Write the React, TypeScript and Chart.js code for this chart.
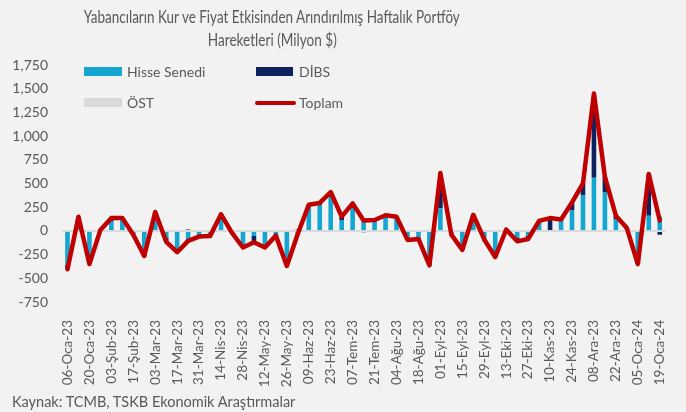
import React, { useEffect, useLayoutEffect, useRef } from "react";
import { Chart, registerables } from "chart.js";

Chart.register(...registerables);

const labels = [
  "06-Oca-23", "13-Oca-23", "20-Oca-23", "27-Oca-23",
  "03-Şub-23", "10-Şub-23", "17-Şub-23", "24-Şub-23",
  "03-Mar-23", "10-Mar-23", "17-Mar-23", "24-Mar-23", "31-Mar-23",
  "07-Nis-23", "14-Nis-23", "21-Nis-23", "28-Nis-23",
  "05-May-23", "12-May-23", "19-May-23", "26-May-23",
  "02-Haz-23", "09-Haz-23", "16-Haz-23", "23-Haz-23", "30-Haz-23",
  "07-Tem-23", "14-Tem-23", "21-Tem-23", "28-Tem-23",
  "04-Ağu-23", "11-Ağu-23", "18-Ağu-23", "25-Ağu-23",
  "01-Eyl-23", "08-Eyl-23", "15-Eyl-23", "22-Eyl-23", "29-Eyl-23",
  "06-Eki-23", "13-Eki-23", "20-Eki-23", "27-Eki-23",
  "03-Kas-23", "10-Kas-23", "17-Kas-23", "24-Kas-23",
  "01-Ara-23", "08-Ara-23", "15-Ara-23", "22-Ara-23", "29-Ara-23",
  "05-Oca-24", "12-Oca-24", "19-Oca-24",
];

const hisse = [
  -355, 110, -335, 10, 100, 130, -40, -255, 180, -70,
  -225, -120, -70, -55, 150, 0, -160, -55, -170, -40,
  -365, -45, 270, 295, 400, 115, 285, 120, 115, 165,
  150, -80, -85, -350, 240, -40, -160, 120, -100, -260,
  15, -70, -50, 105, 10, 110, 215, 380, 560, 410,
  120, 20, -310, 160, 150,
];

const dibs = [
  -45, 40, -15, 0, 35, 5, 0, -15, 20, -45,
  0, 15, 0, 0, 25, -20, -10, -65, 0, -10,
  0, 15, 5, 0, 10, 35, 5, -15, 0, 0,
  0, -15, 0, -15, 350, 0, -40, 50, 0, -15,
  0, -40, -35, 0, 125, 10, 85, 120, 850, 160,
  40, 10, -40, 440, -40,
];

const ost = [
  0, 0, 0, 0, 0, 0, 0, 5, 0, 0,
  0, 0, 10, 0, 0, 0, 0, 0, 0, 0,
  0, 0, 0, 0, 0, 0, 0, 0, 0, 0,
  0, 0, 0, 0, 20, 0, 0, 0, 10, 0,
  0, 0, 0, 0, 0, 0, 0, 0, 40, 0,
  0, 0, 0, 0, 0,
];

const toplam = [
  -405, 150, -350, 10, 135, 135, -40, -265, 200, -115,
  -225, -105, -60, -55, 175, -20, -175, -120, -175, -50,
  -370, -30, 275, 295, 410, 150, 290, 110, 115, 165,
  150, -95, -85, -365, 610, -40, -200, 170, -90, -275,
  15, -110, -85, 105, 135, 120, 300, 500, 1450, 570,
  160, 30, -350, 600, 110,
];

const yMin = -750;
const yMax = 1750;
const yStep = 250;

const titleLines = [
  "Yabancıların Kur ve Fiyat Etkisinden Arındırılmış Haftalık Portföy",
  "Hareketleri (Milyon $)",
];
const titleWidths = [376, 129];

const TEXT = "#595959";
const FONT = "Lato, 'Open Sans', sans-serif";

export default function App() {
  const ref = useRef<HTMLCanvasElement | null>(null);
  const titleRefs = useRef<(HTMLSpanElement | null)[]>([]);

  useLayoutEffect(() => {
    titleRefs.current.forEach((el, i) => {
      if (!el) return;
      const w = el.getBoundingClientRect().width;
      if (w > 0) {
        el.style.transform = `scaleX(${titleWidths[i] / w})`;
      }
    });
  }, []);

  useEffect(() => {
    document.body.style.margin = "0";
    document.body.style.background = "#F2F2F2";
    const chart = new Chart(ref.current as HTMLCanvasElement, {
      type: "bar",
      data: {
        labels,
        datasets: [
          {
            type: "line",
            label: "Toplam",
            data: toplam,
            borderColor: "#C00000",
            backgroundColor: "#C00000",
            borderWidth: 4.5,
            pointRadius: 0,
            tension: 0,
            borderJoinStyle: "round",
            borderCapStyle: "round",
            order: 0,
            stack: "total",
          } as any,
          {
            label: "Hisse Senedi",
            data: hisse,
            backgroundColor: "#12A6D1",
            stack: "s",
            order: 1,
            barPercentage: 0.42,
            categoryPercentage: 1,
          },
          {
            label: "DİBS",
            data: dibs,
            backgroundColor: "#0E225E",
            stack: "s",
            order: 1,
            barPercentage: 0.42,
            categoryPercentage: 1,
          },
          {
            label: "ÖST",
            data: ost,
            backgroundColor: "#D9D9D9",
            stack: "s",
            order: 1,
            barPercentage: 0.42,
            categoryPercentage: 1,
          },
        ],
      },
      options: {
        responsive: false,
        animation: false,
        layout: { padding: { left: 8, right: 6, top: 65, bottom: 22 } },
        plugins: {
          legend: { display: false },
          title: { display: false },
          tooltip: { enabled: false },
        },
        scales: {
          x: {
            stacked: true,
            grid: { display: false },
            border: { display: false },
            ticks: {
              autoSkip: false,
              maxRotation: 90,
              minRotation: 90,
              padding: 10,
              color: TEXT,
              font: { family: FONT, size: 13.5 },
              callback: (_v: any, i: number) => (i % 2 === 0 ? labels[i] : ""),
            },
            afterFit: (s: any) => {
              s.height = 88;
            },
          },
          y: {
            stacked: true,
            min: yMin,
            max: yMax,
            border: { display: false },
            grid: {
              drawTicks: false,
              color: (ctx: any) => (ctx.tick && ctx.tick.value === 0 ? "#D9D9D9" : "rgba(0,0,0,0)"),
              lineWidth: (ctx: any) => (ctx.tick && ctx.tick.value === 0 ? 2 : 0),
            },
            ticks: {
              stepSize: yStep,
              padding: 14,
              color: TEXT,
              font: { family: FONT, size: 14 },
              callback: (v: any) => Number(v).toLocaleString("en-US"),
            },
            afterFit: (s: any) => {
              s.width = 54;
            },
          },
        },
      } as any,
    });
    return () => chart.destroy();
  }, []);

  const legendText: React.CSSProperties = {
    position: "absolute",
    fontFamily: FONT,
    fontSize: 14,
    color: TEXT,
    lineHeight: "16px",
    whiteSpace: "nowrap",
  };

  return (
    <div
      style={{
        position: "relative",
        width: 686,
        height: 412,
        background: "#F2F2F2",
        overflow: "hidden",
      }}
    >
      <canvas ref={ref} width={686} height={412} style={{ position: "absolute", left: 0, top: 0 }} />
      {titleLines.map((t, i) => (
        <div
          key={i}
          style={{
            position: "absolute",
            left: 272 - 300,
            width: 600,
            top: 6 + i * 23,
            textAlign: "center",
            fontFamily: FONT,
            fontSize: 16.5,
            lineHeight: "22px",
            color: TEXT,
          }}
        >
          <span
            ref={(el) => {
              titleRefs.current[i] = el;
            }}
            style={{ display: "inline-block", whiteSpace: "nowrap", transformOrigin: "50% 50%" }}
          >
            {t}
          </span>
        </div>
      ))}

      <div style={{ position: "absolute", left: 84, top: 67, width: 38, height: 9, background: "#12A6D1" }} />
      <div style={{ ...legendText, left: 127, top: 64 }}>Hisse Senedi</div>
      <div style={{ position: "absolute", left: 256, top: 67, width: 37, height: 9, background: "#0E225E" }} />
      <div style={{ ...legendText, left: 299, top: 64 }}>DİBS</div>
      <div style={{ position: "absolute", left: 84, top: 98, width: 38, height: 9, background: "#D9D9D9" }} />
      <div style={{ ...legendText, left: 127, top: 95 }}>ÖST</div>
      <div
        style={{
          position: "absolute",
          left: 255,
          top: 101,
          width: 41,
          height: 4,
          borderRadius: 2,
          background: "#C00000",
        }}
      />
      <div style={{ ...legendText, left: 299, top: 95 }}>Toplam</div>

      <div style={{ ...legendText, left: 12, top: 394, fontSize: 14.5 }}>
        Kaynak: TCMB, TSKB Ekonomik Araştırmalar
      </div>
    </div>
  );
}
